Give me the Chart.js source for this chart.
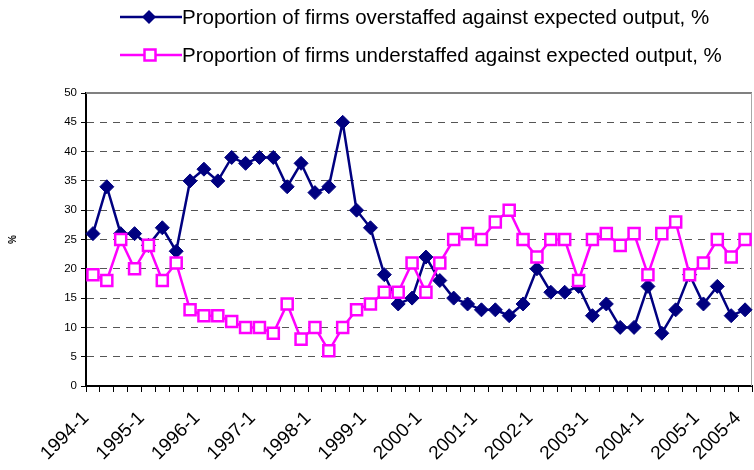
<!DOCTYPE html>
<html><head><meta charset="utf-8">
<script src="https://cdn.jsdelivr.net/npm/chart.js@4.4.1/dist/chart.umd.min.js"></script>
<style>
body{margin:0;background:#fff;}
#wrap{position:relative;width:754px;height:470px;overflow:hidden;}
canvas{position:absolute;left:0;top:0;}
.lg{position:absolute;left:120px;height:24px;display:flex;align-items:center;font-family:Arial,"Liberation Sans",sans-serif;font-size:20.5px;line-height:24px;color:#000;white-space:nowrap;}
.lg svg{display:block;}
</style></head><body>
<div id="wrap">
<canvas id="c" width="754" height="470"></canvas>
<div class="lg" style="top:5px"><svg width="62" height="16"><line x1="0" y1="8" x2="62" y2="8" stroke="#000080" stroke-width="2.5"/><polygon points="29,1 36,8 29,15 22,8" fill="#000080"/></svg><span id="lg1"></span></div>
<div class="lg" style="top:43px"><svg width="62" height="16"><line x1="0" y1="8" x2="62" y2="8" stroke="#FF00FF" stroke-width="2.5"/><rect x="24.5" y="2.5" width="11" height="11" fill="#fff" stroke="#FF00FF" stroke-width="2.5"/></svg><span id="lg2"></span></div>
</div>
<script>
const categories = [
 '1994-1','1994-2','1994-3','1994-4','1995-1','1995-2','1995-3','1995-4',
 '1996-1','1996-2','1996-3','1996-4','1997-1','1997-2','1997-3','1997-4',
 '1998-1','1998-2','1998-3','1998-4','1999-1','1999-2','1999-3','1999-4',
 '2000-1','2000-2','2000-3','2000-4','2001-1','2001-2','2001-3','2001-4',
 '2002-1','2002-2','2002-3','2002-4','2003-1','2003-2','2003-3','2003-4',
 '2004-1','2004-2','2004-3','2004-4','2005-1','2005-2','2005-3','2005-4'
];
const shownTickLabels = ['1994-1','1995-1','1996-1','1997-1','1998-1','1999-1','2000-1','2001-1','2002-1','2003-1','2004-1','2005-1','2005-4'];
const seriesNames = [
 'Proportion of firms overstaffed against expected output, %',
 'Proportion of firms understaffed against expected output, %'
];
const overstaffed = [26,34,26,26,24,27,23,35,37,35,39,38,39,39,34,38,33,34,45,30,27,19,14,15,22,18,15,14,13,13,12,14,20,16,16,17,12,14,10,10,17,9,13,19,14,17,12,13];
const understaffed = [19,18,25,20,24,18,21,13,12,12,11,10,10,9,14,8,10,6,10,13,14,16,16,21,16,21,25,26,25,28,30,25,22,25,25,18,25,26,24,26,19,26,28,19,21,25,22,25];
const yMin = 0, yMax = 50, yStep = 5;
const yTitle = '%';

document.getElementById('lg1').textContent = seriesNames[0];
document.getElementById('lg2').textContent = seriesNames[1];

const frame = {
  id:'frame',
  beforeDatasetsDraw(chart){
    const {ctx, chartArea:a} = chart;
    ctx.save();
    ctx.strokeStyle = '#808080';
    ctx.lineWidth = 2;
    ctx.beginPath(); ctx.moveTo(a.left, a.top); ctx.lineTo(a.right, a.top); ctx.stroke();
    ctx.strokeStyle = '#a8a8a8';
    ctx.lineWidth = 1;
    ctx.beginPath(); ctx.moveTo(a.right-0.5, a.top); ctx.lineTo(a.right-0.5, a.bottom); ctx.stroke();
    ctx.restore();
  }
};

new Chart(document.getElementById('c'), {
  type:'line',
  data:{
    labels:categories,
    datasets:[
      {label:seriesNames[0], data:overstaffed, borderColor:'#000080', backgroundColor:'#000080', borderWidth:2.5,
       pointStyle:'rectRot', pointRadius:7, pointBackgroundColor:'#000080', pointBorderColor:'#000080', pointBorderWidth:1, tension:0, order:1, clip:false},
      {label:seriesNames[1], data:understaffed, borderColor:'#FF00FF', backgroundColor:'#FFFFFF', borderWidth:2.5,
       pointStyle:'rect', pointRadius:7.8, pointBackgroundColor:'#FFFFFF', pointBorderColor:'#FF00FF', pointBorderWidth:2.5, tension:0, order:0, clip:false}
    ]
  },
  options:{
    responsive:false, animation:false, devicePixelRatio:1,
    layout:{autoPadding:false, padding:{top:93,left:0,right:2,bottom:0}},
    plugins:{legend:{display:false}, tooltip:{enabled:false}},
    scales:{
      x:{
        offset:true,
        grid:{offset:true, drawOnChartArea:false, drawTicks:true, tickLength:6, color:'#000', tickColor:'#000', tickWidth:1},
        border:{display:true, color:'#000', width:2},
        ticks:{autoSkip:false, maxRotation:45, minRotation:45, color:'#000', padding:15, labelOffset:-7,
          font:{family:'Arial, "Liberation Sans", sans-serif', size:19},
          callback:function(v,i){ const l = categories[i]; return shownTickLabels.includes(l) ? l : ''; }},
        afterFit(s){ s.height = 84; s.paddingLeft = 0; s.paddingRight = 0; }
      },
      y:{
        min:yMin, max:yMax,
        ticks:{stepSize:yStep, color:'#000', padding:4, font:{family:'Arial, "Liberation Sans", sans-serif', size:11.5}},
        grid:{color:(c)=> (c.tick && (c.tick.value===yMin || c.tick.value===yMax)) ? 'rgba(0,0,0,0)' : '#555',
              tickColor:'#000', tickLength:5, lineWidth:1},
        border:{display:true, color:'#000', width:2, dash:[7,6]},
        title:{display:true, text:yTitle, color:'#000', font:{family:'Arial, "Liberation Sans", sans-serif', size:10, weight:'bold'}, padding:{top:7,bottom:0}},
        afterFit(s){ s.width = 86; s.paddingTop = 0; s.paddingBottom = 0; }
      }
    }
  },
  plugins:[frame]
});
</script>
</body></html>
